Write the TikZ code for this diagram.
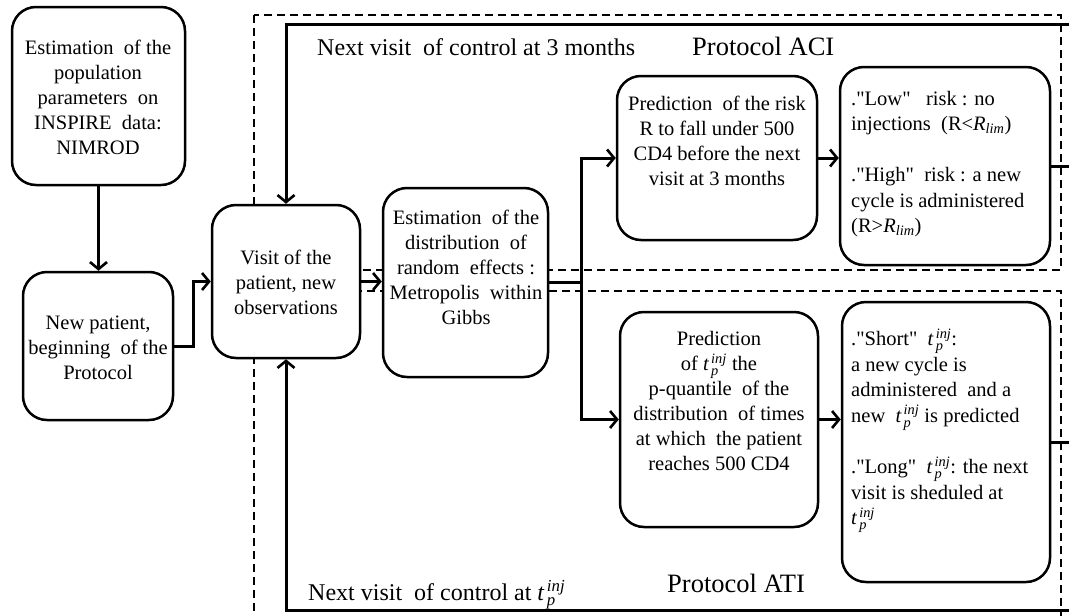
\RequirePackage{fix-cm}
\documentclass[tikz,border=0pt]{standalone}
\usepackage{fontspec}
\setmainfont{Liberation Serif}
\newfontfamily\qfont{Liberation Serif}
\usetikzlibrary{arrows.meta}
\newcommand\tinj{$\mathit{t}_{\,\mathit{p}}^{\,\mathit{inj}}$}
\newcommand\rlim{$\mathit{R}_{\mathit{lim}}$}
\tikzset{
 box/.style={draw, line width=2.5pt, rounded corners=24pt, fill=white, inner sep=0pt},
 conn/.style={line width=3pt, -{Straight Barb[length=7pt,width=17pt,line width=2.6pt]}},
 plain/.style={line width=3pt},
 dashbox/.style={line width=1.3pt, dash pattern=on 8pt off 5pt},
 txt/.style={font=\fontsize{20.5}{25}\selectfont, align=center, inner sep=0pt},
 ltxt/.style={font=\qfont\fontsize{20.5}{25.5}\selectfont, align=left, inner sep=0pt, anchor=west},
 lab/.style={font=\fontsize{24}{28}\selectfont, inner sep=0pt, anchor=base west},
 labbig/.style={font=\fontsize{26.5}{30}\selectfont, inner sep=0pt, anchor=base west},
}
\begin{document}
\begin{tikzpicture}[x=1pt,y=-1pt]
\useasboundingbox (0,0) rectangle (1069,616);
\lineskiplimit=-20pt
% dashed protocol frames
\draw[dashbox] (254,15) rectangle (1061,270);
\draw[dashbox] (254,291) rectangle (1061,630);
% boxes
\node[box, minimum width=173pt, minimum height=178pt] (A) at (98.5,96) {};
\node[box, minimum width=150pt, minimum height=148pt] (B) at (98,346) {};
\node[box, minimum width=148pt, minimum height=153pt] (C) at (286,281.5) {};
\node[box, minimum width=165pt, minimum height=189pt] (D) at (465.5,282.5) {};
\node[box, minimum width=200pt, minimum height=164pt] (E) at (717,158) {};
\node[box, minimum width=210pt, minimum height=198pt] (G) at (945,166) {};
\node[box, minimum width=198pt, minimum height=215pt] (F) at (719,419.5) {};
\node[box, minimum width=208pt, minimum height=280pt] (H) at (946,442) {};
% texts
\node[txt] (tA) at (98,97) {Estimation\ \ of the\\population\\parameters\ \ on\\INSPIRE\ \ data:\\NIMROD};
\node[txt] (tB) at (98,348) {New patient,\\beginning\ \ of the\\Protocol};
\node[txt] (tC) at (286,282) {Visit of the\\patient, new\\observations};
\node[txt] (tD) at (466,267) {Estimation\ \ of the\\distribution\ \ of\\random\ \ effects :\\Metropolis\ \ within\\Gibbs};
\node[txt] (tE) at (717,141) {Prediction\ \ of the risk\\R to fall under 500\\CD4 before the next\\visit at 3 months};
\node[txt] (tF) at (719,401) {Prediction\\of \tinj{} the\\p-quantile\ \ of the\\distribution\ \ of times\\at which\ \ the patient\\reaches 500 CD4};
\node[ltxt] (tG) at (851,164) {."Low"\ \ \ risk : no\\injections\ \ (R<\rlim)\\[25.5pt]."High"\ \ risk : a new\\cycle is administered\\(R>\rlim)};
\node[ltxt] (tH) at (851,431) {."Short"\ \ \tinj:\\a new cycle is\\administered\ \ and a\\new\ \ \tinj{} is predicted\\[26pt]."Long"\ \ \tinj: the next\\visit is sheduled at\\\tinj};
% labels
\node[lab] (l1) at (317,55) {Next visit\ \ of control at 3 months};
\node[labbig] (l2) at (692,55) {Protocol ACI};
\node[lab] (l3) at (308,600) {Next visit\ \ of control at \tinj};
\node[labbig] (l4) at (667,592) {Protocol ATI};
% connectors
\coordinate (J) at (581,282.5);
\coordinate (TR) at (1073,24);
\coordinate (BR) at (1073,610);
\draw[conn] (A.south) -- (A.south |- B.north);
\draw[conn] (B.east) -- ++(19,0) |- (C.west);
\draw[conn] (C.east) -- (C.east -| D.west);
\draw[plain] (D.east |- J) -- (J);
\draw[conn] (J) |- (E.west);
\draw[conn] (J) |- (F.west);
\draw[conn] (E.east) -- (E.east -| G.west);
\draw[conn] (F.east) -- (F.east -| H.west);
\draw[conn] (G.east) -- (G.east -| TR) -- (TR) -- (TR -| C.north) -- (C.north);
\draw[conn] (H.east) -- (H.east -| BR) -- (BR) -- (BR -| C.south) -- (C.south);
\end{tikzpicture}
\end{document}
